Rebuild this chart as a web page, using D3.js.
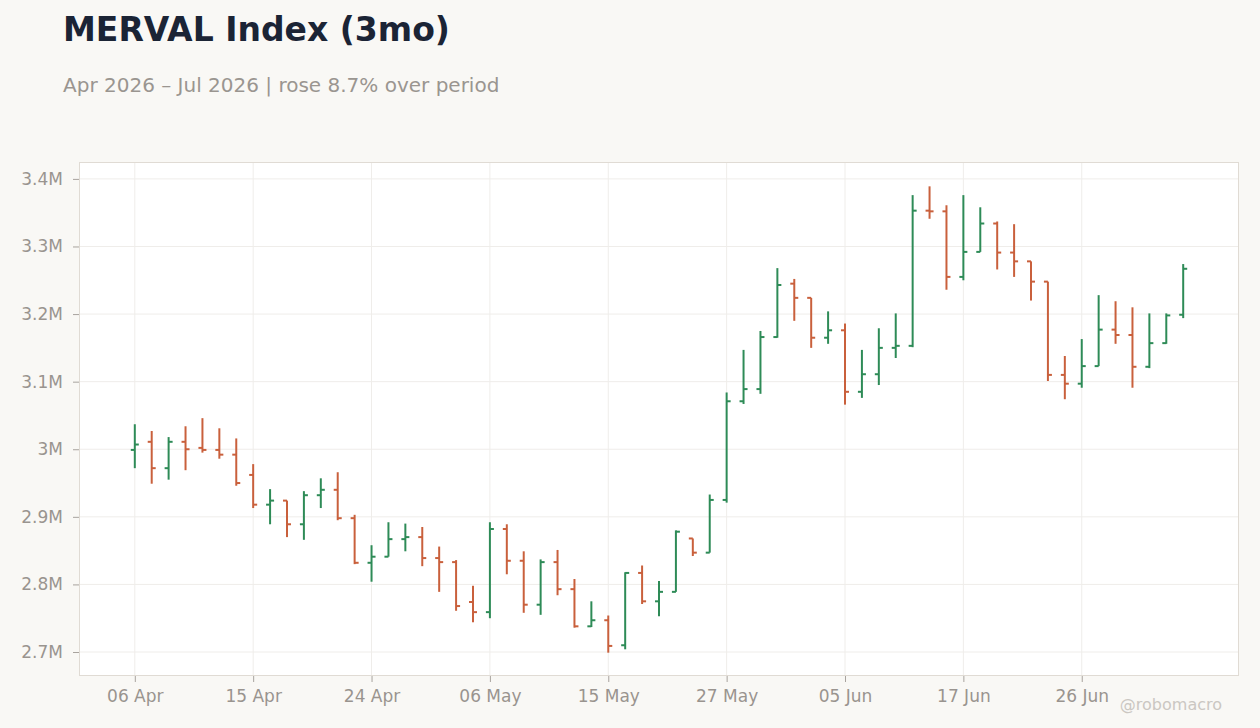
<!DOCTYPE html>
<html>
<head>
<meta charset="utf-8">
<script src="https://cdn.jsdelivr.net/npm/d3@7"></script>
<style>
  html, body { margin: 0; padding: 0; background: #f9f8f5; }
  svg { display: block; font-family: "DejaVu Sans", sans-serif; }
</style>
</head>
<body>
<div id="chart"></div>
<script>
// trading days (Argentine holidays skipped)
const dates = [
  "2026-04-06","2026-04-07","2026-04-08","2026-04-09","2026-04-10","2026-04-13","2026-04-14","2026-04-15",
  "2026-04-16","2026-04-17","2026-04-20","2026-04-21","2026-04-22","2026-04-23","2026-04-24",
  "2026-04-27","2026-04-28","2026-04-29","2026-04-30","2026-05-04","2026-05-05","2026-05-06",
  "2026-05-07","2026-05-08","2026-05-11","2026-05-12","2026-05-13","2026-05-14","2026-05-15",
  "2026-05-18","2026-05-19","2026-05-20","2026-05-21","2026-05-22","2026-05-26","2026-05-27",
  "2026-05-28","2026-05-29","2026-06-01","2026-06-02","2026-06-03","2026-06-04","2026-06-05",
  "2026-06-08","2026-06-09","2026-06-10","2026-06-11","2026-06-12","2026-06-16","2026-06-17",
  "2026-06-18","2026-06-19","2026-06-22","2026-06-23","2026-06-24","2026-06-25","2026-06-26",
  "2026-06-29","2026-06-30","2026-07-01","2026-07-02","2026-07-03","2026-07-06"
];

// OHLC in thousands of index points
const open = [2999,3011,2972,3011,3002,2999,2992,2962,2918,2924,
  2889,2932,2940,2898,2832,2841,2867,2870,2839,2833,
  2774,2759,2882,2835,2770,2833,2793,2738,2747,2710,
  2817,2775,2789,2868,2847,2925,3071,3089,3166,3245,
  3224,3165,3176,3085,3111,3150,3153,3353,3352,3255,
  3292,3334,3291,3278,3248,3110,3097,3123,3177,3169,
  3122,3157,3199];
const high = [3037,3027,3018,3034,3046,3031,3016,2978,2941,2924,
  2938,2957,2966,2903,2858,2892,2890,2885,2856,2836,
  2798,2892,2889,2849,2837,2851,2808,2775,2754,2818,
  2828,2805,2880,2868,2933,3084,3147,3175,3268,3252,
  3224,3204,3186,3147,3179,3201,3376,3389,3361,3376,
  3358,3337,3333,3278,3248,3138,3163,3228,3219,3210,
  3201,3201,3274];
const low = [2972,2949,2955,2969,2995,2986,2946,2913,2889,2870,
  2866,2913,2895,2830,2804,2841,2849,2827,2789,2761,
  2744,2750,2815,2758,2755,2784,2736,2737,2699,2704,
  2771,2753,2789,2842,2847,2921,3067,3082,3165,3190,
  3150,3156,3066,3076,3095,3135,3151,3341,3236,3250,
  3292,3266,3255,3220,3101,3074,3091,3123,3156,3091,
  3120,3156,3194];
const close = [3007,2972,3011,3000,2999,2992,2950,2918,2924,2889,
  2932,2940,2898,2832,2841,2867,2870,2839,2833,2768,
  2759,2882,2835,2770,2833,2793,2738,2747,2709,2817,
  2775,2789,2878,2847,2925,3071,3089,3166,3243,3224,
  3165,3176,3085,3111,3150,3153,3353,3352,3255,3292,
  3334,3291,3278,3248,3110,3097,3123,3177,3169,3122,
  3157,3198,3267];

const xTickDates = ["2026-04-06","2026-04-15","2026-04-24","2026-05-06","2026-05-15",
  "2026-05-27","2026-06-05","2026-06-17","2026-06-26"];
const yTicks = [2700000,2800000,2900000,3000000,3100000,3200000,3300000,3400000];

const title = "MERVAL Index (3mo)";
const subtitle = "Apr 2026 \u2013 Jul 2026 | rose 8.7% over period";

const bars = dates.map((d, i) => ({
  date: d, o: open[i] * 1000, h: high[i] * 1000, l: low[i] * 1000, c: close[i] * 1000
}));

const width = 1260, height = 728;
const margin = { top: 162, right: 21, bottom: 52, left: 79 };
const up = "#2e8b57", down = "#c9603c";

const svg = d3.select("#chart").append("svg")
  .attr("width", width)
  .attr("height", height);

svg.append("rect").attr("width", width).attr("height", height).attr("fill", "#f9f8f5");

const x = d3.scalePoint()
  .domain(dates)
  .range([margin.left, width - margin.right])
  .padding(3.3);

const y = d3.scaleLinear()
  .domain([2664500, 3425000])
  .range([height - margin.bottom, margin.top]);

// plot background
svg.append("rect")
  .attr("x", margin.left).attr("y", margin.top)
  .attr("width", width - margin.left - margin.right)
  .attr("height", height - margin.top - margin.bottom)
  .attr("fill", "#ffffff");

// gridlines
svg.append("g").selectAll("line")
  .data(yTicks).enter().append("line")
  .attr("x1", margin.left).attr("x2", width - margin.right)
  .attr("y1", d => y(d)).attr("y2", d => y(d))
  .attr("stroke", "#efedea").attr("stroke-width", 1);

svg.append("g").selectAll("line")
  .data(xTickDates).enter().append("line")
  .attr("x1", d => x(d)).attr("x2", d => x(d))
  .attr("y1", margin.top).attr("y2", height - margin.bottom)
  .attr("stroke", "#efedea").attr("stroke-width", 1);

// axes
const fmtDate = d3.timeFormat("%d %b");
const parse = d3.timeParse("%Y-%m-%d");

const yAxis = svg.append("g")
  .attr("transform", `translate(${margin.left},0)`)
  .call(d3.axisLeft(y).tickValues(yTicks).tickSize(6).tickPadding(10)
    .tickFormat(d3.format("~s")));

const xAxis = svg.append("g")
  .attr("transform", `translate(0,${height - margin.bottom})`)
  .call(d3.axisBottom(x).tickValues(xTickDates).tickSize(6).tickPadding(8)
    .tickFormat(d => fmtDate(parse(d))));

[yAxis, xAxis].forEach(a => {
  a.select(".domain").remove();
  a.selectAll(".tick line").attr("stroke", "#a8a39e");
  a.selectAll(".tick text")
    .attr("fill", "#99948f")
    .style("font-family", "DejaVu Sans, sans-serif")
    .style("font-size", "17px");
});

// plot border
svg.append("rect")
  .attr("x", margin.left + 0.5).attr("y", margin.top + 0.5)
  .attr("width", width - margin.left - margin.right - 1)
  .attr("height", height - margin.top - margin.bottom - 1)
  .attr("fill", "none")
  .attr("stroke", "#e0dbd4");

// OHLC bars
const g = svg.append("g").selectAll("g")
  .data(bars).enter().append("g")
  .attr("stroke", d => d.c >= d.o ? up : down)
  .attr("stroke-width", 2);

g.append("line")
  .attr("x1", d => x(d.date)).attr("x2", d => x(d.date))
  .attr("y1", d => y(d.h)).attr("y2", d => y(d.l));

g.append("line")
  .attr("x1", d => x(d.date) - 4).attr("x2", d => x(d.date))
  .attr("y1", d => y(d.o)).attr("y2", d => y(d.o));

g.append("line")
  .attr("x1", d => x(d.date)).attr("x2", d => x(d.date) + 4)
  .attr("y1", d => y(d.c)).attr("y2", d => y(d.c));

// titles
svg.append("text")
  .attr("x", 63).attr("y", 41)
  .attr("fill", "#1b2435")
  .style("font-size", "33px")
  .style("font-weight", "bold")
  .text(title);

svg.append("text")
  .attr("x", 63).attr("y", 92)
  .attr("fill", "#9a9590")
  .style("font-size", "20px")
  .text(subtitle);

svg.append("text")
  .attr("x", 1222).attr("y", 710)
  .attr("text-anchor", "end")
  .attr("fill", "#cbc7c2")
  .style("font-size", "16px")
  .text("@robomacro");
</script>
</body>
</html>
